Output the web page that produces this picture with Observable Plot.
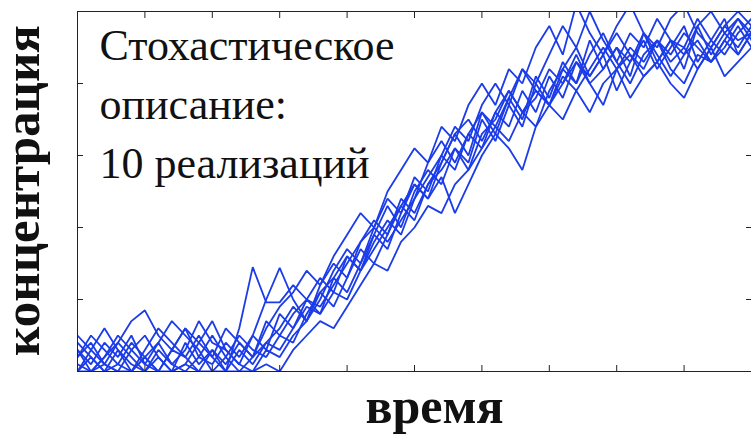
<!DOCTYPE html>
<html><head><meta charset="utf-8">
<script src="https://cdn.jsdelivr.net/npm/d3@7"></script>
<script src="https://cdn.jsdelivr.net/npm/@observablehq/plot@0.6"></script>
<style>body{margin:0;background:#fff;overflow:hidden}</style>
</head><body><div id="chart"></div>
<script>
const times = [0,0.2,0.4,0.6,0.8,1,1.2,1.4,1.6,1.8,2,2.2,2.4,2.6,2.8,3,3.2,3.4,3.6,3.8,4,4.2,4.4,4.6,4.8,5,5.2,5.4,5.6,5.8,6,6.2,6.4,6.6,6.8,7,7.2,7.4,7.6,7.8,8,8.2,8.4,8.6,8.8,9,9.2,9.4,9.6,9.8,10];
const run1 = [0.3,0.1,0.4,0.2,0.5,0.1,0.0,0.3,0.6,0.2,0.1,0.4,0.2,0.5,0.3,0.8,0.6,1.0,0.8,1.3,1.1,1.5,1.9,1.7,2.2,2.6,2.4,2.9,3.3,3.0,3.6,3.3,3.8,3.5,4.1,3.8,4.3,4.0,4.6,4.2,4.5,4.1,4.7,4.3,4.6,4.2,4.8,4.4,4.7,4.5,4.8];
const run2 = [0.0,0.2,0.0,0.3,0.1,0.0,0.2,0.0,0.4,0.1,0.3,0.0,0.6,1.45,0.96,0.96,1.2,1.0,1.3,1.1,1.6,1.4,1.9,2.3,2.0,2.5,2.8,2.6,3.1,2.9,3.5,3.2,3.7,3.4,4.0,3.7,4.2,4.5,4.1,4.4,3.9,4.3,4.6,4.2,4.5,4.8,4.3,4.6,4.9,4.4,4.7];
const run3 = [0.2,0.4,0.1,0.0,0.3,0.5,0.2,0.0,0.1,0.4,0.7,0.3,0.1,0.5,1.0,1.44,1.0,0.7,1.1,1.3,1.6,1.4,1.8,2.1,1.9,2.4,2.7,3.0,2.8,3.3,3.1,3.6,3.9,3.6,3.4,3.9,4.2,4.0,4.4,4.7,4.3,4.0,4.4,4.6,4.3,4.5,4.9,4.6,4.4,4.7,4.9];
const run4 = [0.0,0.0,0.1,0.0,0.0,0.2,0.0,0.0,0.1,0.0,0.0,0.0,0.0,0.0,0.1,0.0,0.3,0.5,0.7,0.6,0.9,1.2,1.5,1.4,1.8,2.0,2.3,2.2,2.6,2.8,3.1,3.4,3.2,3.6,3.9,3.7,4.1,3.9,4.2,4.5,4.2,4.4,4.1,4.3,4.6,4.5,4.2,4.5,4.8,4.6,4.7];
const run5 = [0.5,0.3,0.1,0.4,0.7,0.85,0.5,0.3,0.6,0.4,0.2,0.0,0.3,0.1,0.4,0.6,0.9,0.7,1.2,1.5,1.3,1.8,2.0,2.4,2.2,2.7,2.5,3.0,3.4,3.2,3.7,4.0,3.7,4.2,4.0,4.4,4.8,4.5,5.0,4.6,4.3,4.7,4.5,4.9,4.6,4.4,4.8,5.0,4.7,4.9,4.6];
const run6 = [0.1,0.0,0.2,0.4,0.2,0.0,0.3,0.1,0.0,0.2,0.5,0.2,0.0,0.2,0.4,0.3,0.6,0.9,0.8,1.1,1.0,1.4,1.7,2.0,2.3,2.6,2.4,2.7,2.2,2.6,3.0,3.3,3.1,2.8,3.4,3.7,3.5,3.9,3.6,4.0,4.2,3.8,4.1,4.3,4.0,3.8,4.2,4.5,4.1,4.3,4.5];
const run7 = [0.2,0.5,0.3,0.1,0.0,0.3,0.6,0.4,0.2,0.0,0.3,0.1,0.4,0.2,0.6,0.9,1.1,1.4,1.2,1.6,1.9,2.2,2.0,2.5,2.8,3.1,2.9,3.4,3.2,3.7,4.0,3.7,4.2,4.0,4.5,4.8,4.4,5.1,4.7,4.4,4.8,5.1,4.7,4.5,4.9,5.1,4.7,4.5,4.8,5.0,4.8];
const run8 = [0.3,0.0,0.2,0.5,0.3,0.1,0.4,0.7,0.5,0.3,0.0,0.2,0.5,0.3,0.2,0.5,0.4,0.8,1.1,0.9,1.3,1.7,1.5,1.9,2.4,2.2,2.6,2.9,3.3,3.5,3.2,3.6,3.4,3.9,3.6,4.1,3.8,4.3,4.0,3.7,4.2,4.5,4.3,4.6,4.2,4.0,4.4,4.3,4.6,4.9,4.7];
const run9 = [0.0,0.3,0.6,0.3,0.0,0.2,0.4,0.1,0.3,0.7,0.4,0.3,0.1,0.0,0.3,0.2,0.5,0.7,1.0,1.4,1.7,1.5,2.0,1.8,2.1,2.4,2.9,3.2,2.9,3.3,3.6,3.4,3.8,4.2,3.9,3.7,4.0,4.3,4.1,4.4,4.7,4.4,4.2,4.6,4.4,4.7,4.5,4.3,4.5,4.8,4.5];
const run10 = [0.4,0.2,0.0,0.1,0.4,0.2,0.0,0.3,0.2,0.5,0.2,0.6,0.4,0.2,0.7,0.5,0.8,1.0,0.9,1.2,1.5,1.8,2.1,1.9,2.3,2.1,2.6,2.8,3.1,2.8,3.3,3.5,3.9,3.6,3.8,4.2,4.0,4.4,4.0,4.2,4.5,4.3,4.7,4.4,4.1,4.4,4.6,4.3,4.6,4.4,4.7];
const xTicks = [1,2,3,4,5,6,7,8,9];
const yTicks = [1,2,3,4];
const annotationLines = ["Стохастическое", "описание:", "10 реализаций"];
const xLabel = "время";
const yLabel = "концентрация";

const runs = [run1,run2,run3,run4,run5,run6,run7,run8,run9,run10];
const data = [];
runs.forEach((r, k) => r.forEach((v, i) => data.push({t: times[i], c: v, run: k})));

const serif = "Liberation Serif";
const ink = "#222";
const chart = Plot.plot({
  width: 751, height: 435,
  marginLeft: 77, marginRight: 0, marginTop: 11, marginBottom: 64,
  style: {background: "#fff"},
  x: {domain: [0, 10], axis: null},
  y: {domain: [0, 5], axis: null},
  marks: [
    Plot.lineY(data, {x: "t", y: "c", z: "run", stroke: "#1b3ce8", strokeWidth: 1.8, strokeLinejoin: "miter", clip: true}),
    Plot.ruleX([0], {stroke: ink}),
    Plot.ruleY([0, 5], {stroke: ink}),
    Plot.axisX(xTicks, {anchor: "bottom", tickSize: 6, dy: -6, tickFormat: () => "", label: null, stroke: ink}),
    Plot.axisX(xTicks, {anchor: "top", tickSize: 6, dy: 6, tickFormat: () => "", label: null, stroke: ink}),
    Plot.axisY(yTicks, {anchor: "left", tickSize: 6, dx: 6, tickFormat: () => "", label: null, stroke: ink}),
    Plot.axisY(yTicks, {anchor: "right", tickSize: 6, dx: -6, tickFormat: () => "", label: null, stroke: ink}),
    ...annotationLines.map((s, i) => Plot.text([s], {frameAnchor: "top-left", dx: 22, dy: 48 + i * 59, lineAnchor: "bottom", textAnchor: "start", fontSize: 44, fontFamily: serif, fill: "#111"})),
    Plot.text([xLabel], {frameAnchor: "bottom", dx: 20, dy: 51, lineAnchor: "bottom", textAnchor: "middle", fontSize: 50, fontWeight: "bold", fontFamily: serif, fill: "#111"}),
    Plot.text([yLabel], {frameAnchor: "left", dx: -39, dy: -1, rotate: -90, lineAnchor: "bottom", textAnchor: "middle", fontSize: 51, fontWeight: "bold", fontFamily: serif, fill: "#111"})
  ]
});
document.getElementById("chart").appendChild(chart);
</script>
</body></html>
